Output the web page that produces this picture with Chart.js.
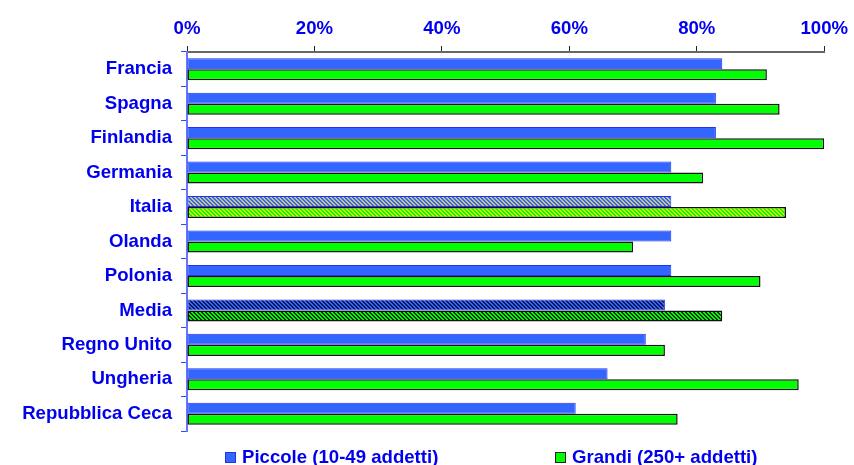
<!DOCTYPE html>
<html lang="it">
<head>
  <meta charset="UTF-8" />
  <title>Piccole e grandi imprese</title>
  <script src="https://cdn.jsdelivr.net/npm/chart.js"></script>
  <style>
    html, body { margin: 0; padding: 0; background: #fff; }
    #wrap { width: 854px; height: 465px; }
  </style>
</head>
<body>
  <div id="wrap">
    <canvas id="chart" width="854" height="465"></canvas>
  </div>

  <script>
    // Dati
    const paesi = ['Francia', 'Spagna', 'Finlandia', 'Germania', 'Italia', 'Olanda',
                   'Polonia', 'Media', 'Regno Unito', 'Ungheria', 'Repubblica Ceca'];
    const piccole = [84, 83, 83, 76, 76, 76, 76, 75, 72, 66, 61];
    const grandi  = [91, 93, 100, 81, 94, 70, 90, 84, 75, 96, 77];
    const tickX = [0, 20, 40, 60, 80, 100];

    const BLU = '#3366ff';
    const VERDE = '#00ff00';
    const TESTO = '#0000ee';
    const FONT = { family: 'Liberation Sans, Arial', size: 18.6, weight: 'bold' };

    // tratteggio diagonale fine
    function pattern(base, line) {
      const c = document.createElement('canvas');
      c.width = 4; c.height = 4;
      const g = c.getContext('2d');
      g.fillStyle = base;
      g.fillRect(0, 0, 4, 4);
      g.fillStyle = line;
      for (let i = 0; i < 4; i++) {
        g.fillRect((i + 1) % 4, i, 1, 1);
        g.fillRect((i + 2) % 4, i, 1, 1);
      }
      return g.createPattern(c, 'repeat');
    }

    const coloriPiccole = paesi.map(p => {
      if (p === 'Italia') return pattern(BLU, '#c8c878');
      if (p === 'Media') return pattern(BLU, '#101850');
      return BLU;
    });
    const coloriGrandi = paesi.map(p => {
      if (p === 'Italia') return pattern(VERDE, '#d8f000');
      if (p === 'Media') return pattern(VERDE, '#003000');
      return VERDE;
    });

    // legenda in basso, disegnata a mano come nell'originale
    const legendaBasso = {
      id: 'legendaBasso',
      afterDraw(chart) {
        const ctx = chart.ctx;
        const voci = chart.data.datasets;
        const xs = [225, 555];     // inizio di ogni voce
        const yBox = 452;
        ctx.save();
        ctx.font = 'bold 18.6px "Liberation Sans", Arial';
        ctx.textBaseline = 'alphabetic';
        voci.forEach((d, i) => {
          ctx.fillStyle = i === 0 ? BLU : VERDE;
          ctx.fillRect(xs[i], yBox, 11, 11);
          ctx.strokeStyle = i === 0 ? '#2233ee' : '#222';
          ctx.lineWidth = 1;
          ctx.strokeRect(xs[i] + 0.5, yBox + 0.5, 10, 10);
          ctx.fillStyle = TESTO;
          ctx.fillText(d.label, xs[i] + 17, 463);
        });
        ctx.restore();
      }
    };

    new Chart(document.getElementById('chart'), {
      type: 'bar',
      data: {
        labels: paesi,
        datasets: [
          {
            label: 'Piccole (10-49 addetti)',
            data: piccole,
            backgroundColor: coloriPiccole,
            borderColor: '#2233ee',
            borderWidth: 1,
            borderSkipped: false
          },
          {
            label: 'Grandi (250+ addetti)',
            data: grandi,
            backgroundColor: coloriGrandi,
            borderColor: '#111111',
            borderWidth: 1.5,
            borderSkipped: false
          }
        ]
      },
      options: {
        indexAxis: 'y',
        responsive: false,
        maintainAspectRatio: false,
        animation: false,
        layout: { padding: { left: 0, right: 24, top: 0, bottom: 34 } },
        categoryPercentage: 0.64,
        barPercentage: 1.0,
        scales: {
          x: {
            position: 'top',
            min: 0,
            max: 100,
            afterBuildTicks: s => { s.ticks = tickX.map(v => ({ value: v })); },
            afterFit: s => { s.height = 52; },
            ticks: {
              color: TESTO,
              font: FONT,
              padding: 6,
              maxRotation: 0,
              callback: v => v + '%'
            },
            grid: { drawOnChartArea: false, drawTicks: true, tickLength: 6, color: '#222' },
            border: { color: '#666', width: 2 }
          },
          y: {
            afterFit: s => { s.width = 187; },
            ticks: { color: TESTO, font: FONT, padding: 9 },
            grid: { offset: true, drawOnChartArea: false, drawTicks: true, tickLength: 6, color: '#3344ff' },
            border: { color: '#6677ff', width: 2 }
          }
        },
        plugins: {
          tooltip: { enabled: false },
          legend: { display: false }
        }
      },
      plugins: [legendaBasso]
    });
  </script>
</body>
</html>
